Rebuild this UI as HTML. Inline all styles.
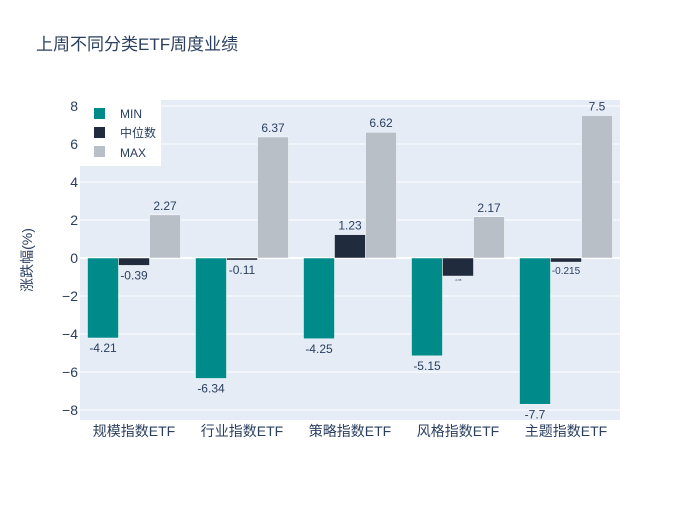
<!DOCTYPE html>
<html><head><meta charset="utf-8"><style>
body{margin:0;background:#fff;font-family:"Liberation Sans","Noto Sans CJK SC",sans-serif}
text{font-family:"Liberation Sans","Noto Sans CJK SC",sans-serif}
</style></head><body>
<svg id="chart" width="700" height="500" xmlns="http://www.w3.org/2000/svg">
<rect width="700" height="500" fill="#fff"/>
<text x="36" y="50" font-size="17" fill="#2a3f5f">上周不同分类ETF周度业绩</text>
<rect x="80" y="100" width="540" height="320" fill="#e5ecf6"/>
<g id="grid"></g>
<g id="bars"></g>
<g id="labels"></g>
<text transform="translate(32,260) rotate(-90)" text-anchor="middle" font-size="14" fill="#2a3f5f">涨跌幅(%)</text>
<g>
<rect x="80" y="100" width="81" height="66" fill="#fff"/>
<rect x="94" y="108" width="11" height="11" fill="#008b8b"/>
<text x="120" y="118" font-size="12" fill="#2a3f5f">MIN</text>
<rect x="94" y="127" width="11" height="11" fill="#212b3e"/>
<text x="120" y="137" font-size="12" fill="#2a3f5f">中位数</text>
<rect x="94" y="146" width="11" height="11" fill="#b9bfc7"/>
<text x="120" y="157" font-size="12" fill="#2a3f5f">MAX</text>
</g>
</svg>
<script>
const categories=["规模指数ETF","行业指数ETF","策略指数ETF","风格指数ETF","主题指数ETF"];
const minVals=[-4.21,-6.34,-4.25,-5.15,-7.7];
const medVals=[-0.39,-0.11,1.23,-0.95,-0.215];
const maxVals=[2.27,6.37,6.62,2.17,7.5];
const yTicks=[-8,-6,-4,-2,0,2,4,6,8];
const NS="http://www.w3.org/2000/svg";
const y=v=>258-v*19;
const xc=i=>134+i*108;
function mk(tag,attrs,parent){const e=document.createElementNS(NS,tag);for(const k in attrs)e.setAttribute(k,attrs[k]);document.getElementById(parent).appendChild(e);return e;}
yTicks.forEach(t=>{
  const g=mk("line",{x1:80,x2:620,y1:y(t),y2:y(t),stroke:"#fff","stroke-width":t===0?2:1},"grid");
  
  
  const l=mk("text",{x:78,y:y(t)+5,"text-anchor":"end","font-size":14,fill:"#2a3f5f"},"labels");
  l.textContent=t<0?"−"+Math.abs(t):String(t);
  
  
});
const series=[[minVals,"#008b8b",-1,"min"],[medVals,"#212b3e",0,"median"],[maxVals,"#b9bfc7",1,"max"]];
categories.forEach((c,i)=>{
  const t=mk("text",{x:xc(i),y:436,"text-anchor":"middle","font-size":14,fill:"#2a3f5f"},"labels");
  t.textContent=c;
  
  
  series.forEach(([vals,col,off,nm])=>{
    const v=vals[i],x0=xc(i)+off*31-15.5;
    const top=Math.min(y(v),y(0)),h=Math.abs(y(v)-y(0));
    const r=mk("rect",{x:x0,y:top,width:31,height:Math.max(h,0.5),fill:col,stroke:"#fff","stroke-width":0.5},"bars");
    
    
    const a=Math.abs(v);
    let fs=12;
    if(nm==="median"&&a>0.2&&a<0.3)fs=10;
    if(nm==="median"&&a>0.5&&a<1)fs=3;
    const lab=mk("text",{x:x0+15.5,y:v>=0?y(v)-5:y(v)+(fs===12?14:(fs===10?12:5)),"text-anchor":"middle","font-size":fs,fill:"#2a3f5f"},"labels");
    lab.textContent=String(v);
    
    
  });
});
</script>
</body></html>
